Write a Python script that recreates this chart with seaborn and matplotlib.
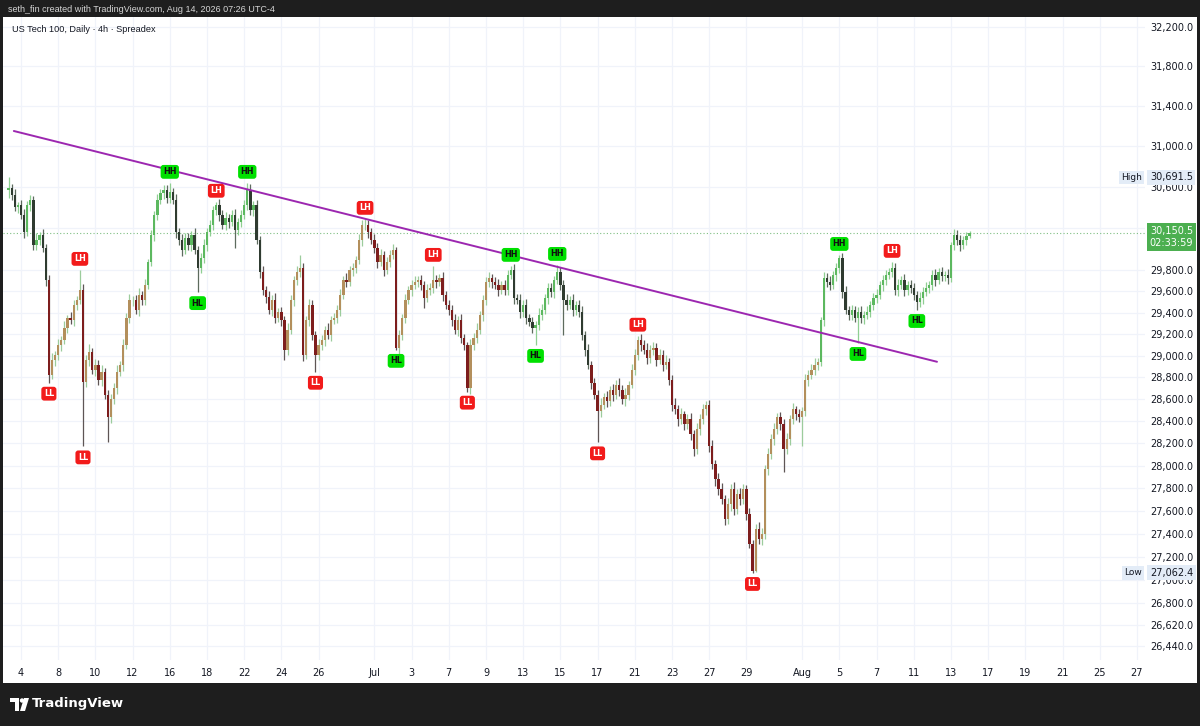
import numpy as np
import matplotlib
matplotlib.use("Agg")
import matplotlib.pyplot as plt
import seaborn as sns
from matplotlib.patches import Rectangle, Polygon, Ellipse
from matplotlib.ticker import FixedLocator, FixedFormatter, NullLocator

sns.set_theme(style="white")
plt.rcParams["font.family"] = ["DejaVu Sans"]
NARROW = ["Liberation Sans Narrow", "Liberation Sans", "DejaVu Sans"]

# ---------------- data (4h bars) ----------------
first_open = 30570.0
closes = [
    30590, 30521, 30405, 30424,                       # Jun 3
    30327, 30164, 30424, 30473, 30039, 30087,         # Jun 4
    30135, 30010, 29706, 28824, 28962, 29008,         # Jun 5
    29100, 29146, 29257, 29350, 29331, 29471,         # Jun 8
    29518, 29612, 28761, 28962, 29036, 28870,         # Jun 9
    28916, 28779, 28852, 28643, 28435, 28598,         # Jun 10
    28706, 28852, 28916, 29100, 29350, 29518,         # Jun 11
    29518, 29425, 29565, 29518, 29659, 29877,         # Jun 12
    30135, 30327, 30473, 30541, 30570, 30492,         # Jun 15
    30551, 30473, 30164, 30087, 29991, 30106,         # Jun 16
    30039, 30135, 29991, 29820, 29915, 30039,         # Jun 17
    30164, 30231, 30376, 30424, 30327, 30231,         # Jun 18
    30298, 30260, 30327, 30183, 30260, 30327,         # Jun 19
    30424, 30570, 30376, 30424, 30087, 29782,         # Jun 22
    29612, 29546, 29425, 29518, 29350, 29406,         # Jun 23
    29331, 29054, 29238, 29518, 29706, 29782,         # Jun 24
    29820, 29008, 29331, 29471, 29192, 29008,         # Jun 25
    29100, 29146, 29238, 29192, 29331, 29350,         # Jun 26
    29425, 29565, 29706, 29687, 29801, 29820,         # Jun 29
    29896, 30087, 30231, 30231, 30164, 30087,         # Jun 30
    30010, 29877, 29943, 29801, 29877, 29943,         # Jul 1
    29991, 29072, 29192, 29350, 29518, 29612,         # Jul 2
    29659, 29687, 29706, 29659, 29537, 29612,         # Jul 3
    29631, 29706, 29687, 29725, 29565, 29471,         # Jul 6
    29425, 29331, 29238, 29331, 29164, 29100,         # Jul 7
    28706, 29100, 29164, 29238, 29378, 29518,         # Jul 8
    29687, 29725, 29687, 29659, 29612, 29659,         # Jul 9
    29612, 29754, 29801, 29537, 29518, 29406,         # Jul 10
    29471, 29350, 29313, 29257, 29285, 29378,         # Jul 13
    29425, 29537, 29631, 29593, 29706, 29782,         # Jul 14
    29659, 29518, 29471, 29518, 29425, 29471,         # Jul 15
    29406, 29192, 29054, 28916, 28752, 28643,         # Jul 16
    28489, 28552, 28616, 28580, 28688, 28643,         # Jul 17
    28733, 28688, 28598, 28643, 28733, 28870,         # Jul 20
    29008, 29146, 29100, 29054, 28980, 29054,         # Jul 21
    29072, 28962, 29008, 28916, 28944, 28779,         # Jul 22
    28552, 28507, 28417, 28462, 28372, 28417,         # Jul 23
    28283, 28148, 28327, 28417, 28507, 28552,         # Jul 24
    28175, 28015, 27882, 27794, 27706, 27531,         # Jul 27
    27662, 27794, 27618, 27750, 27706, 27794,         # Jul 28
    27575, 27314, 27082, 27444, 27357, 27400,         # Jul 29
    27971, 28104, 28238, 28327, 28435, 28372,         # Jul 30
    28148, 28238, 28417, 28507, 28462, 28435,         # Jul 31
    28489, 28779, 28824, 28870, 28916, 28944,         # Aug 3
    29331, 29725, 29687, 29659, 29754, 29820,         # Aug 4
    29915, 29593, 29425, 29378, 29425, 29350,         # Aug 5
    29406, 29350, 29378, 29406, 29471, 29537,         # Aug 6
    29565, 29659, 29706, 29754, 29782, 29820,         # Aug 7
    29612, 29659, 29706, 29612, 29659, 29631,         # Aug 10
    29565, 29500, 29537, 29593, 29631, 29659,         # Aug 11
    29754, 29706, 29782, 29744, 29754, 29725,         # Aug 12
    30039, 30135, 30087, 30039, 30087, 30125,         # Aug 13
    30150.5,                                          # Aug 14
]
upper_wick = [
    101.5, 40, 55, 30,
    45, 60, 35, 50, 40, 70,
    30, 55, 40, 45, 60, 35,
    50, 40, 65, 30, 55, 45,
    40, 189, 60, 45, 70, 35,
    55, 40, 60, 35, 45, 50,
    40, 65, 30, 55, 45, 60,
    35, 50, 70, 40, 55, 30,
    45, 40, 60, 35, 50, 45,
    87, 40, 55, 35, 60, 45,
    50, 40, 65, 35, 45, 55,
    40, 50, 35, 30, 60, 45,
    55, 40, 45, 60, 35, 50,
    45, 68, 55, 40, 50, 35,
    60, 40, 55, 45, 70, 35,
    50, 40, 65, 45, 35, 55,
    123, 50, 40, 60, 45, 35,
    55, 45, 40, 60, 35, 50,
    45, 55, 40, 65, 35, 50,
    40, 55, 45, 58, 50, 35,
    60, 45, 55, 40, 50, 45,
    55, 30, 45, 40, 55, 35,
    45, 60, 35, 50, 40, 55,
    45, 133, 50, 40, 60, 35,
    50, 45, 60, 40, 55, 35,
    30, 55, 45, 60, 40, 50,
    45, 60, 35, 50, 55, 40,
    50, 45, 38, 55, 40, 60,
    45, 55, 40, 50, 35, 60,
    55, 40, 50, 45, 35, 66,
    50, 45, 60, 40, 55, 35,
    45, 55, 40, 50, 35, 45,
    40, 55, 45, 60, 35, 50,
    45, 60, 40, 55, 35, 50,
    55, 37, 50, 40, 60, 45,
    50, 40, 55, 45, 60, 35,
    45, 55, 40, 60, 35, 50,
    55, 40, 60, 45, 50, 35,
    45, 60, 40, 55, 50, 35,
    55, 45, 60, 40, 50, 45,
    40, 55, 30, 45, 60, 50,
    35, 55, 45, 60, 40, 50,
    45, 55, 40, 60, 35, 50,
    40, 55, 45, 50, 60, 35,
    30, 55, 45, 60, 40, 50,
    28, 45, 55, 40, 50, 35,
    45, 60, 40, 55, 35, 50,
    55, 40, 50, 45, 35, 57,
    45, 55, 40, 60, 35, 50,
    50, 40, 55, 45, 60, 35,
    45, 55, 40, 50, 35, 60,
    30, 55, 45, 50, 40, 35,
    25,
]
lower_wick = [
    78, 45, 35, 55,
    40, 55, 35, 60, 45, 50,
    45, 35, 60, 72, 40, 55,
    45, 60, 35, 50, 40, 55,
    50, 40, 586, 45, 60, 40,
    55, 45, 60, 40, 224, 50,
    45, 55, 40, 60, 35, 50,
    55, 40, 60, 45, 50, 35,
    40, 55, 45, 35, 60, 45,
    50, 40, 55, 45, 60, 35,
    45, 60, 40, 227, 50, 45,
    55, 40, 50, 45, 60, 35,
    45, 55, 40, 173, 50, 45,
    40, 50, 45, 60, 35, 55,
    45, 60, 40, 55, 50, 35,
    55, 92, 45, 40, 60, 50,
    45, 55, 40, 60, 50, 156,
    50, 45, 55, 40, 60, 35,
    45, 55, 40, 50, 35, 60,
    50, 40, 55, 45, 60, 35,
    45, 55, 40, 60, 35, 50,
    40, 18, 55, 45, 50, 35,
    55, 40, 50, 45, 93, 40,
    50, 45, 55, 40, 60, 35,
    45, 55, 40, 60, 50, 45,
    36, 55, 45, 50, 40, 60,
    45, 50, 55, 40, 60, 35,
    50, 45, 40, 55, 35, 60,
    45, 55, 40, 50, 157, 45,
    50, 40, 55, 45, 60, 35,
    45, 326, 50, 40, 55, 45,
    50, 45, 60, 40, 55, 45,
    278, 50, 40, 55, 45, 60,
    45, 55, 40, 60, 50, 35,
    50, 45, 55, 40, 60, 45,
    45, 55, 40, 60, 35, 50,
    55, 45, 60, 40, 50, 45,
    50, 60, 45, 55, 40, 50,
    55, 45, 60, 50, 40, 55,
    45, 60, 50, 40, 55, 45,
    50, 40, 19.6, 10, 45, 55,
    45, 50, 40, 55, 45, 50,
    204, 45, 55, 40, 50, 45,
    260, 45, 55, 40, 50, 45,
    40, 55, 45, 50, 40, 55,
    45, 55, 40, 50, 45, 40,
    232, 45, 55, 40, 50, 45,
    50, 40, 55, 45, 40, 50,
    45, 55, 40, 60, 45, 50,
    50, 75, 45, 55, 40, 50,
    45, 55, 40, 50, 45, 55,
    40, 50, 45, 55, 40, 45,
    20,
]
bar_index = np.arange(-4, -4 + len(closes))   # 0 = first 4h bar of Jun 4, 6 bars per day

# candle colour regime (trend colouring seen in the chart)
regime_start = [-4, 9, 41, 78, 157, 184, 258]
regime_bull = [True, False, True, False, True, False, True]

# market-structure labels
swing_bar = [9, 19, 20, 48, 57, 63, 73, 95, 111, 121, 133, 144, 158, 166, 173,
             186, 199, 236, 264, 270, 281, 289]
swing_label = ["LL", "LH", "LL", "HH", "HL", "LH", "HH", "LL", "LH", "HL", "LH", "LL",
               "HH", "HL", "HH", "LL", "LH", "LL", "HH", "HL", "LH", "HL"]

# descending trend line
trend_bar = [-2.3, 295.5]
trend_price = [31149, 28943]

# axes labels
day_offsets = [0, 2, 4, 6, 8, 10, 12, 14, 16, 19, 21, 23, 25, 27, 29, 31, 33, 35, 37, 39,
               42, 44, 46, 48, 50, 52, 54, 56, 58, 60]
day_labels = ["4", "8", "10", "12", "16", "18", "22", "24", "26", "Jul", "3", "7", "9", "13",
              "15", "17", "21", "23", "27", "29", "Aug", "5", "7", "11", "13", "17", "19",
              "21", "25", "27"]
price_ticks = [32200, 31800, 31400, 31000, 30600, 30200, 29800, 29600, 29400, 29200, 29000,
               28800, 28600, 28400, 28200, 28000, 27800, 27600, 27400, 27200, 27000, 26800,
               26620, 26440]
last_price = 30150.5
countdown = "02:33:59"
high_price = 30691.5
low_price = 27062.4

# ---------------- derived OHLC ----------------
c = np.array(closes, dtype=float)
o = np.r_[first_open, c[:-1]]
h = np.maximum(o, c) + np.array(upper_wick, dtype=float)
l = np.minimum(o, c) - np.array(lower_wick, dtype=float)

bull = np.zeros(len(c), dtype=bool)
for s, b in zip(regime_start, regime_bull):
    bull[bar_index >= s] = b
up = c >= o
body_col = np.where(bull, np.where(up, "#5cb85f", "#2f3b30"),
                    np.where(up, "#b38f5c", "#7d1d1d"))
wick_col = np.where(bull, np.where(up, "#8fcf92", "#5d6b5e"),
                    np.where(up, "#9ccc9c", "#5e5555"))

# ---------------- figure ----------------
W, H = 1200, 726
fig = plt.figure(figsize=(W / 100, H / 100), dpi=100, facecolor="#1e1e1e")


def frac(x0, y0, x1, y1):
    return [x0 / W, 1 - y1 / H, (x1 - x0) / W, (y1 - y0) / H]


fig.add_artist(Rectangle((3 / W, 1 - 683 / H), 1194 / W, 666 / H, transform=fig.transFigure,
                         facecolor="white", edgecolor="none", zorder=-1))

ax = fig.add_axes(frac(3, 17, 1145, 660))
ax.set_facecolor("none")
for sp in ax.spines.values():
    sp.set_visible(False)

ax.set_yscale("log")
ax.set_ylim(26322, 32300)
ax.set_xlim(-5.8, 362.6)

ax.yaxis.set_major_locator(FixedLocator(price_ticks))
ax.yaxis.set_major_formatter(FixedFormatter([f"{p:,.1f}" for p in price_ticks]))
ax.yaxis.set_minor_locator(NullLocator())
ax.yaxis.tick_right()
ax.tick_params(axis="y", length=0, pad=4, labelsize=7, labelcolor="#131722")

xt = [6 * d for d in day_offsets]
ax.xaxis.set_major_locator(FixedLocator(xt))
ax.xaxis.set_major_formatter(FixedFormatter(day_labels))
ax.xaxis.set_minor_locator(NullLocator())
ax.tick_params(axis="x", length=0, pad=6, labelsize=7, labelcolor="#131722")

ax.grid(True, color="#f0f3fa", linewidth=0.9)
ax.set_axisbelow(True)

# candles
ax.vlines(bar_index, l, h, colors=wick_col, linewidth=0.9, zorder=2)
body_h = np.maximum(np.abs(c - o), 4.0)
ax.bar(bar_index, body_h, bottom=np.minimum(o, c), width=0.74, color=body_col,
       linewidth=0, zorder=3)

# trend line
sns.lineplot(x=trend_bar, y=trend_price, ax=ax, color="#9c27b0", linewidth=1.4,
             zorder=4, legend=False)

# last price dotted line
ax.axhline(last_price, color="#7fbf82", linestyle=(0, (1, 2)), linewidth=0.8, zorder=1)

# swing labels
for bi, lab in zip(swing_bar, swing_label):
    i = bi + 4
    green = lab in ("HH", "HL")
    above = lab in ("HH", "LH")
    yv = h[i] if above else l[i]
    dy = 8 if above else -8
    ax.annotate(lab, (bi, yv), xytext=(0, dy), textcoords="offset points",
                ha="center", va="center", fontsize=5.8, fontweight="bold",
                color="#101010" if green else "white",
                bbox=dict(boxstyle="round,pad=0.3,rounding_size=0.35",
                          fc="#00e000" if green else "#f21b1b", ec="none"),
                zorder=6)

# right-hand price labels
lab_bg = "#e3ecf7"
for name, val in (("High", high_price), ("Low", low_price)):
    ax.annotate(name, xy=(1.0, val), xycoords=("axes fraction", "data"),
                xytext=(-2, 0), textcoords="offset points", ha="right", va="center",
                fontsize=6.5, color="#131722", annotation_clip=False, zorder=7,
                bbox=dict(boxstyle="square,pad=0.25", fc=lab_bg, ec="none"))
    ax.annotate(f"{val:,.1f}", xy=(1.0, val), xycoords=("axes fraction", "data"),
                xytext=(3.5, 0), textcoords="offset points", ha="left", va="center",
                fontsize=7, color="#131722", annotation_clip=False, zorder=7,
                bbox=dict(boxstyle="square,pad=0.25", fc=lab_bg, ec="none"))

ax.annotate(f"{last_price:,.1f}\n{countdown}", xy=(1.0, last_price),
            xycoords=("axes fraction", "data"), xytext=(3.5, 5), textcoords="offset points",
            ha="left", va="top", fontsize=7, color="white", linespacing=1.15,
            annotation_clip=False, zorder=8,
            bbox=dict(boxstyle="square,pad=0.3", fc="#4caf50", ec="none"))

# header / title / footer
fig.text(8 / W, 1 - 9 / H, "seth_fin created with TradingView.com, Aug 14, 2026 07:26 UTC-4",
         color="#d6d6d6", fontsize=6.5, va="center", ha="left", family=NARROW)
fig.text(12 / W, 1 - 29 / H, "US Tech 100, Daily · 4h · Spreadex", color="#131722",
         fontsize=6.6, va="center", ha="left", family=NARROW)
fig.text(32 / W, 1 - 704 / H, "TradingView", color="white", fontsize=9.5,
         fontweight="bold", va="center", ha="left")

# TradingView logo glyph
fig.add_artist(Rectangle((10 / W, 1 - 702 / H), 9 / W, 4 / H, transform=fig.transFigure,
                         fc="white", ec="none"))
fig.add_artist(Rectangle((14.5 / W, 1 - 711 / H), 4.5 / W, 13 / H, transform=fig.transFigure,
                         fc="white", ec="none"))
fig.add_artist(Ellipse((22 / W, 1 - 700.5 / H), 4.4 / W, 4.4 / H, transform=fig.transFigure,
                       fc="white", ec="none"))
fig.add_artist(Polygon([(24 / W, 1 - 698 / H), (29 / W, 1 - 698 / H), (25 / W, 1 - 711 / H),
                        (20 / W, 1 - 711 / H)], closed=True, transform=fig.transFigure,
                       fc="white", ec="none"))

fig.savefig("out.png", dpi=100, facecolor=fig.get_facecolor())
